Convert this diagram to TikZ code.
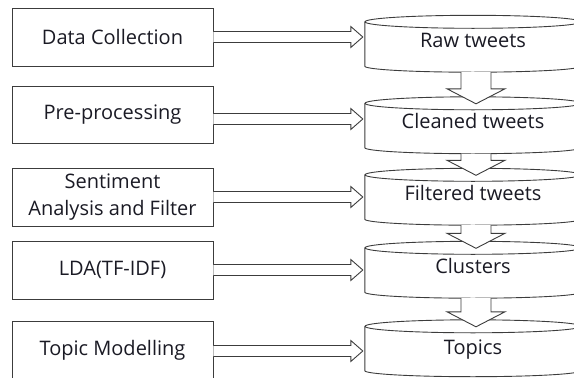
\documentclass[tikz,border=0pt]{standalone}
\usepackage{fontspec}
\setmainfont{Open Sans}
\usetikzlibrary{calc}
\definecolor{linec}{HTML}{3C3C3C}
\definecolor{textc}{HTML}{1A1A24}

% horizontal hollow arrow from a box edge to a cylinder side
\newcommand\sidearrow[2]{%
  \draw[blockarrow] let \p1=(#1), \p2=(#2) in
    (\x1,\y1+5.5pt) -- (\x2-14pt,\y1+5.5pt) -- (\x2-14pt,\y1+10.5pt)
    -- (\x2-2pt,\y1) -- (\x2-14pt,\y1-10.5pt) -- (\x2-14pt,\y1-5.5pt)
    -- (\x1,\y1-5.5pt);}
% vertical hollow arrow from one cylinder down into the next
\newcommand\downblock[2]{%
  \draw[blockarrow] let \p1=(#1), \p2=(#2) in
    (\x1-15pt,\y1) -- (\x1-15pt,\y2+15pt) -- (\x1-29pt,\y2+15pt)
    -- (\x1,\y2) -- (\x1+29pt,\y2+15pt) -- (\x1+15pt,\y2+15pt)
    -- (\x1+15pt,\y1);}
% cylinder outline around a body node
\newcommand\cylinderaround[1]{%
  \draw[cylline] (#1.north west) -- (#1.south west)
    arc[start angle=180, end angle=360, x radius=108pt, y radius=6pt]
    -- (#1.north east);
  \draw[cylline] (#1.north) ellipse[x radius=108pt, y radius=6.5pt];}

\begin{document}
\begin{tikzpicture}[x=1pt, y=-1pt,
  stagebox/.style={draw=linec, line width=0.9pt, minimum width=201pt,
    minimum height=58pt, inner sep=0pt, align=center, text=textc,
    font=\fontsize{20}{27}\selectfont},
  cylbody/.style={draw=none, minimum width=216pt, minimum height=44pt,
    inner sep=0pt},
  cyllabel/.style={inner sep=0pt, text=textc, text height=14pt,
    text depth=0pt, font=\fontsize{20}{24}\selectfont},
  cylline/.style={draw=linec, line width=0.9pt},
  blockarrow/.style={draw=linec, fill=white, line width=0.9pt,
    line join=miter}]
\useasboundingbox (0,0) rectangle (574,378);

% process steps
\node[stagebox] (b1) at (112.5,37)    {Data Collection};
\node[stagebox, minimum height=57pt] (b2) at (112.5,114.5) {Pre-processing};
\node[stagebox] (b3) at (112.5,197)   {Sentiment\\Analysis and Filter};
\node[stagebox] (b4) at (112.5,270)   {LDA(TF-IDF)};
\node[stagebox, minimum height=59pt] (b5) at (112.5,350.5) {Topic Modelling};

% data stores
\node[cylbody] (c1) at (473,44)    {};
\node[cylbody] (c2) at (473,125.5) {};
\node[cylbody] (c3) at (473,197)   {};
\node[cylbody] (c4) at (473,270)   {};
\node[cylbody] (c5) at (473,348.5) {};
\foreach \c in {c1,c2,c3,c4,c5} {\cylinderaround{\c}}

\node[cyllabel] (t1) at (473,40)    {Raw tweets};
\node[cyllabel] (t2) at (473,121.5) {Cleaned tweets};
\node[cyllabel] (t3) at (473,193.5) {Filtered tweets};
\node[cyllabel] (t4) at (473,266.5) {Clusters};
\node[cyllabel] (t5) at (473,347)   {Topics};

% arrow heights
\coordinate (r1) at (0,37);
\coordinate (r2) at (0,119);
\coordinate (r3) at (0,197);
\coordinate (r4) at (0,270);
\coordinate (r5) at (0,351);

\sidearrow{b1.east |- r1}{c1.west |- r1}
\sidearrow{b2.east |- r2}{c2.west |- r2}
\sidearrow{b3.east |- r3}{c3.west |- r3}
\sidearrow{b4.east |- r4}{c4.west |- r4}
\sidearrow{b5.east |- r5}{c5.west |- r5}

\downblock{$(c1.south)+(3,6)$}{$(c2.north)+(3,0.5)$}
\downblock{$(c2.south)+(3,6)$}{$(c3.north)+(3,0.5)$}
\downblock{$(c3.south)+(3,6)$}{$(c4.north)+(3,0.5)$}
\downblock{$(c4.south)+(3,6)$}{$(c5.north)+(3,0.5)$}
\end{tikzpicture}
\end{document}
